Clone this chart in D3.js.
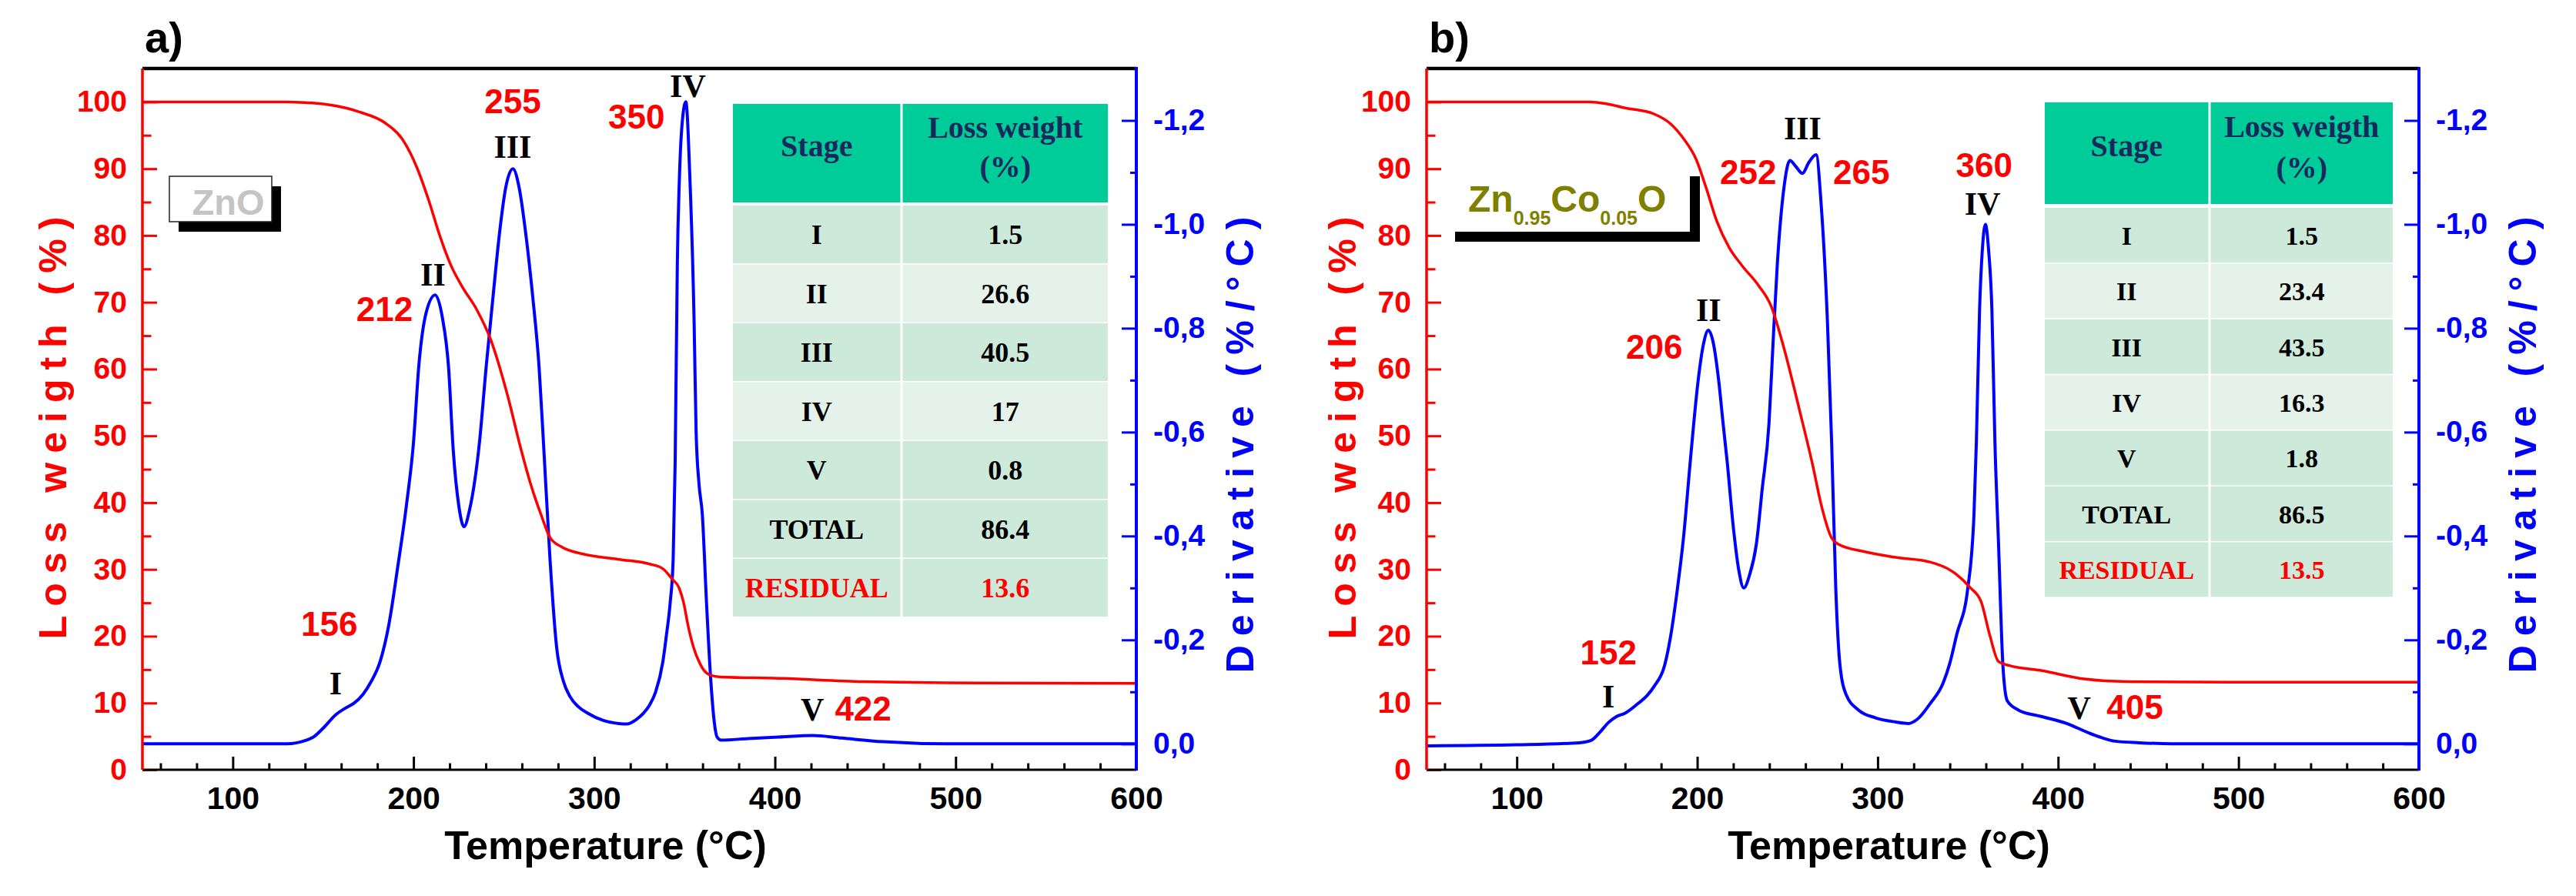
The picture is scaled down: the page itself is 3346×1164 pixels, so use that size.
<!DOCTYPE html>
<html>
<head>
<meta charset="utf-8">
<script src="https://cdn.jsdelivr.net/npm/d3@7"></script>
<style>
  body { margin: 0; background: #fff; }
  svg { display: block; }
</style>
</head>
<body>
<div id="chart"></div>
<script>
// TG curves: [temperature (°C), weight (%)]
const tgA = [
  [50, 100], [130, 100], [140, 99.9], [150, 99.7], [157, 99.4], [170, 98.5], [184, 96.9],
  [193.6, 94.5], [202, 90.1], [208.5, 85.2], [214.5, 80], [220.6, 75.6], [226.8, 72.4],
  [235, 68.9], [242.6, 64.5], [252.4, 55.7], [259, 48.5], [264.7, 42.9], [270.7, 38.1],
  [275.7, 34.7], [281.8, 33.4], [294, 32.3], [313.6, 31.5], [330.7, 30.8], [338, 30.1],
  [343, 28.6], [347, 27.2], [349.5, 25], [352, 21.5], [355, 18.3], [358, 16.2], [361, 14.8],
  [364, 14.2], [370, 13.9], [402, 13.7], [449, 13.2], [518, 13.0], [600, 12.95]
];
const tgB = [
  [50, 100], [141, 100], [150, 99.7], [160, 99.1], [176, 98.2], [185.3, 96.7], [192.4, 94.5],
  [199.4, 91.4], [205.1, 87], [210.9, 82.1], [217.7, 78.2], [224.8, 75.5], [234, 72.5],
  [241, 69.4], [248, 63.2], [257, 53.5], [264, 45.6], [268.7, 39.7], [274.5, 34.7],
  [278, 33.8], [291.9, 32.7], [310, 31.8], [329, 31.1], [341.4, 29.7], [351.2, 27.3],
  [357.3, 25.2], [362, 20.3], [367, 16.2], [373, 15.6], [390, 14.9], [414.5, 13.6],
  [438.8, 13.2], [500, 13.1], [600, 13.1]
];

// DTG curves: [temperature (°C), derivative (%/°C)]
const dtgA = [
  [50, 0], [130, 0], [140, -0.006], [145, -0.014], [150, -0.03], [157, -0.056], [162, -0.068],
  [167, -0.078], [172, -0.095], [176.6, -0.12], [181.5, -0.158], [186.4, -0.23], [191.3, -0.341],
  [196.2, -0.462], [200, -0.58], [203, -0.73], [207, -0.83], [212, -0.864], [216, -0.82],
  [219.4, -0.725], [222, -0.565], [225, -0.46], [228, -0.418], [231, -0.45], [236.5, -0.58],
  [240.2, -0.725], [244, -0.86], [247.5, -0.98], [251, -1.07], [255, -1.107], [258.5, -1.07],
  [262.2, -0.98], [266, -0.86], [269.5, -0.725], [272, -0.575], [275.6, -0.352], [279.2, -0.186],
  [283, -0.12], [286.6, -0.091], [291, -0.072], [296.4, -0.059], [305, -0.045], [313.6, -0.039],
  [318, -0.038], [323.4, -0.047], [327, -0.058], [330.7, -0.075], [334, -0.1], [338, -0.158],
  [340, -0.21], [342, -0.27], [343.7, -0.356], [344.8, -0.543], [346, -0.924], [347.2, -1.094],
  [348.8, -1.2], [350.7, -1.236], [352.9, -1.094], [355.3, -0.81], [356.4, -0.6], [358, -0.5],
  [359.8, -0.443], [362.2, -0.268], [364.5, -0.123], [366.5, -0.04], [368, -0.013],
  [370.3, -0.007], [385, -0.01], [402, -0.013], [421, -0.016], [437, -0.011], [460, -0.004],
  [495, 0], [600, 0]
];
const dtgB = [
  [50, 0.004], [100, 0.002], [134.5, -0.002], [141.4, -0.007], [146, -0.022], [150.8, -0.041],
  [155, -0.052], [160, -0.059], [167, -0.077], [172, -0.092], [176.2, -0.111], [182, -0.152],
  [185.4, -0.21], [189, -0.298], [192.4, -0.397], [195.8, -0.53], [198.1, -0.618], [200.4, -0.696],
  [203.5, -0.77], [206.2, -0.796], [209, -0.77], [212, -0.696], [214.3, -0.618], [216.6, -0.543],
  [220.1, -0.414], [223, -0.335], [225.8, -0.30], [229, -0.325], [232.8, -0.385], [236, -0.49],
  [239.8, -0.618], [242, -0.77], [244.4, -0.924], [247.9, -1.066], [251.4, -1.123], [254.5, -1.112],
  [258.3, -1.098], [262, -1.12], [265.9, -1.134], [268.7, -1.038], [272.2, -0.81], [274.5, -0.58],
  [276.8, -0.298], [279.1, -0.152], [282.6, -0.094], [289.4, -0.065], [298.8, -0.05], [310, -0.042],
  [317, -0.039], [321.9, -0.047], [329, -0.077], [336.3, -0.117], [340, -0.155], [343.8, -0.21],
  [349.9, -0.298], [353.4, -0.443], [354.7, -0.58], [356.5, -0.838], [358, -0.95], [359.7, -1.0],
  [361.5, -0.95], [363.3, -0.838], [365, -0.58], [367, -0.385], [369.4, -0.152], [371.8, -0.083],
  [378, -0.065], [390.2, -0.053], [404.8, -0.039], [411, -0.03], [417, -0.021], [424, -0.012],
  [431.6, -0.005], [445, -0.002], [463, 0], [600, 0]
];

// peak temperatures (red) and stage numerals (black), placed at [T, weight-axis value]
const peaksA = [
  { text: "156", t: 153.4, w: 20.1, anchor: "middle" },
  { text: "212", t: 184, w: 67.2, anchor: "middle" },
  { text: "255", t: 254.9, w: 98.3, anchor: "middle" },
  { text: "350", t: 323.4, w: 96.0, anchor: "middle" },
  { text: "422", t: 448.8, w: 7.4, anchor: "middle" }
];
const romansA = [
  { text: "I", t: 156.9, w: 11.3 },
  { text: "II", t: 210.8, w: 72.5 },
  { text: "III", t: 254.9, w: 91.6 },
  { text: "IV", t: 351.8, w: 100.7 },
  { text: "V", t: 420.7, w: 7.4 }
];
const peaksB = [
  { text: "152", t: 150.8, w: 15.8, anchor: "middle" },
  { text: "206", t: 176.2, w: 61.6, anchor: "middle" },
  { text: "252", t: 243.9, w: 87.7, anchor: "end" },
  { text: "265", t: 275.3, w: 87.7, anchor: "start" },
  { text: "360", t: 359, w: 88.8, anchor: "middle" },
  { text: "405", t: 426.9, w: 7.6, anchor: "start" }
];
const romansB = [
  { text: "I", t: 150.8, w: 9.3 },
  { text: "II", t: 206.3, w: 67.2 },
  { text: "III", t: 258.4, w: 94.4 },
  { text: "IV", t: 358.1, w: 83.1 },
  { text: "V", t: 411.7, w: 7.6 }
];

// inset tables
const stages = ["I", "II", "III", "IV", "V", "TOTAL", "RESIDUAL"];
const lossA = ["1.5", "26.6", "40.5", "17", "0.8", "86.4", "13.6"];
const lossB = ["1.5", "23.4", "43.5", "16.3", "1.8", "86.5", "13.5"];

// ticks
const tempTicks = [100, 200, 300, 400, 500, 600];
const weightTicks = [0, 10, 20, 30, 40, 50, 60, 70, 80, 90, 100];
const derivTicks = [0, -0.2, -0.4, -0.6, -0.8, -1.0, -1.2];

const sans = "'Liberation Sans', Arial, sans-serif";
const serif = "'Liberation Serif', 'Times New Roman', serif";
const RED = "#ff0000", BLUE = "#0000ff";
const width = 3346, height = 1164;
const plotTop = 89, plotBottom = 1000;

const svg = d3.select("#chart").append("svg")
    .attr("width", width)
    .attr("height", height);

svg.append("rect").attr("width", width).attr("height", height).attr("fill", "#fff");

const panels = [
  { tag: "a)", left: 185, right: 1476, tg: tgA, dtg: dtgA, peaks: peaksA, romans: romansA,
    loss: lossA, lossHeader: "Loss weight", leftTitleDx: -99, bodySize: 36,
    table: { x0: 767, xs: 986, x1: 1254, top: 135, headH: 128, rowTop: 267, rowH: 76.5 },
    sample: "a" },
  { tag: "b)", left: 1853, right: 3142, tg: tgB, dtg: dtgB, peaks: peaksB, romans: romansB,
    loss: lossB, lossHeader: "Loss weigth", leftTitleDx: -92, bodySize: 34,
    table: { x0: 803, xs: 1017, x1: 1255, top: 133, headH: 132, rowTop: 270, rowH: 72.4 },
    sample: "b" }
];

const rowFill = ["#cde9d9", "#e4f2ea", "#cde9d9", "#e4f2ea", "#cde9d9", "#cde9d9", "#cde9d9"];

function styleAxis(gg, color, size) {
  gg.select(".domain").remove();
  gg.selectAll("line").attr("stroke", color).attr("stroke-width", 3);
  gg.selectAll("text")
      .attr("fill", color)
      .style("font-family", sans)
      .style("font-size", size + "px")
      .style("font-weight", "bold");
}

function drawPanel(p) {
  const x = d3.scaleLinear().domain([50, 600]).range([p.left, p.right]);
  const yW = d3.scaleLinear().domain([0, 105]).range([plotBottom, plotTop]);
  const yD = d3.scaleLinear().domain([0.05, -1.3]).range([plotBottom, plotTop]);
  const g = svg.append("g");

  // panel tag
  g.append("text")
      .attr("x", p.left + 3)
      .attr("y", 68)
      .style("font-family", sans)
      .style("font-size", "56px")
      .style("font-weight", "bold")
      .text(p.tag);

  // sample label
  if (p.sample === "a") {
    const bx = p.left + 35, by = 229, bw = 133, bh = 59;
    g.append("rect").attr("x", bx + 12).attr("y", by + 13).attr("width", bw).attr("height", bh).attr("fill", "#000");
    g.append("rect").attr("x", bx).attr("y", by).attr("width", bw).attr("height", bh)
        .attr("fill", "#fff").attr("stroke", "#222").attr("stroke-width", 1.5);
    g.append("text")
        .attr("x", bx + bw / 2 + 10)
        .attr("y", by + 50)
        .attr("text-anchor", "middle")
        .attr("fill", "#c4c4c4")
        .style("font-family", sans)
        .style("font-size", "47px")
        .style("font-weight", "bold")
        .text("ZnO");
  } else {
    const bx = p.left + 24, by = 216, bw = 318, bh = 85;
    g.append("rect").attr("x", bx + 13).attr("y", by + 13).attr("width", bw).attr("height", bh).attr("fill", "#000");
    g.append("rect").attr("x", bx).attr("y", by).attr("width", bw).attr("height", bh).attr("fill", "#fff");
    const t = g.append("text")
        .attr("x", bx + 30)
        .attr("y", by + 59)
        .attr("fill", "#808000")
        .style("font-family", sans)
        .style("font-size", "48px")
        .style("font-weight", "bold");
    t.append("tspan").text("Zn");
    t.append("tspan").attr("dy", 17).style("font-size", "25px").text("0.95");
    t.append("tspan").attr("dy", -17).text("Co");
    t.append("tspan").attr("dy", 17).style("font-size", "25px").text("0.05");
    t.append("tspan").attr("dy", -17).text("O");
  }

  // inset table
  const tb = p.table;
  const tx0 = p.left + tb.x0, txs = p.left + tb.xs, tx1 = p.left + tb.x1;
  const cols = [[tx0, txs - 1.5], [txs + 1.5, tx1]];
  cols.forEach(([a, b]) => {
    g.append("rect").attr("x", a).attr("y", tb.top).attr("width", b - a).attr("height", tb.headH).attr("fill", "#00cc99");
  });
  const head = g.append("g")
      .attr("fill", "#16285c")
      .style("font-family", serif)
      .style("font-weight", "bold")
      .style("font-size", "40px")
      .attr("text-anchor", "middle");
  head.append("text").attr("x", (cols[0][0] + cols[0][1]) / 2).attr("y", tb.top + tb.headH * 0.53).text("Stage");
  head.append("text").attr("x", (cols[1][0] + cols[1][1]) / 2).attr("y", tb.top + tb.headH * 0.34).text(p.lossHeader);
  head.append("text").attr("x", (cols[1][0] + cols[1][1]) / 2).attr("y", tb.top + tb.headH * 0.74).text("(%)");

  stages.forEach((s, i) => {
    const ry = tb.rowTop + i * tb.rowH;
    cols.forEach(([a, b]) => {
      g.append("rect").attr("x", a).attr("y", ry).attr("width", b - a).attr("height", tb.rowH - 1.5).attr("fill", rowFill[i]);
    });
    const color = s === "RESIDUAL" ? RED : "#000";
    [s, p.loss[i]].forEach((txt, c) => {
      g.append("text")
          .attr("x", (cols[c][0] + cols[c][1]) / 2)
          .attr("y", ry + tb.rowH / 2 + p.bodySize * 0.34)
          .attr("text-anchor", "middle")
          .attr("fill", color)
          .style("font-family", serif)
          .style("font-weight", "bold")
          .style("font-size", p.bodySize + "px")
          .text(txt);
    });
  });

  // curves
  const lineTG = d3.line().x(d => x(d[0])).y(d => yW(d[1])).curve(d3.curveMonotoneX);
  const lineDTG = d3.line().x(d => x(d[0])).y(d => yD(d[1])).curve(d3.curveMonotoneX);
  g.append("path").datum(p.dtg).attr("d", lineDTG)
      .attr("fill", "none").attr("stroke", BLUE).attr("stroke-width", 4).attr("stroke-linejoin", "round");
  g.append("path").datum(p.tg).attr("d", lineTG)
      .attr("fill", "none").attr("stroke", RED).attr("stroke-width", 3.5).attr("stroke-linejoin", "round");

  // annotations
  p.peaks.forEach(d => {
    g.append("text")
        .attr("x", x(d.t)).attr("y", yW(d.w))
        .attr("text-anchor", d.anchor)
        .attr("fill", RED)
        .style("font-family", sans)
        .style("font-weight", "bold")
        .style("font-size", "44px")
        .text(d.text);
  });
  p.romans.forEach(d => {
    g.append("text")
        .attr("x", x(d.t)).attr("y", yW(d.w))
        .attr("text-anchor", "middle")
        .attr("fill", "#000")
        .style("font-family", serif)
        .style("font-weight", "bold")
        .style("font-size", "42px")
        .text(d.text);
  });

  // axes: minor ticks first, then major ticks with labels
  const xMinor = d3.axisBottom(x).tickValues(d3.range(60, 600, 20).filter(v => v % 100 !== 0))
      .tickSize(-8.5).tickFormat("");
  styleAxis(g.append("g").attr("transform", `translate(0,${plotBottom})`).call(xMinor), "#000", 41);
  const xMajor = d3.axisBottom(x).tickValues(tempTicks).tickSize(-17).tickSizeOuter(0).tickPadding(22);
  styleAxis(g.append("g").attr("transform", `translate(0,${plotBottom})`).call(xMajor), "#000", 41);

  const wMinor = d3.axisLeft(yW).tickValues(d3.range(5, 100, 10)).tickSize(-11.5).tickFormat("");
  styleAxis(g.append("g").attr("transform", `translate(${p.left},0)`).call(wMinor), RED, 39);
  const wMajor = d3.axisLeft(yW).tickValues(weightTicks).tickSize(-19).tickSizeOuter(0).tickPadding(20);
  styleAxis(g.append("g").attr("transform", `translate(${p.left},0)`).call(wMajor), RED, 39);

  const fmtD = v => v.toFixed(1).replace(".", ",");
  const dMinor = d3.axisRight(yD).tickValues([-0.1, -0.3, -0.5, -0.7, -0.9, -1.1]).tickSize(-8).tickFormat("");
  styleAxis(g.append("g").attr("transform", `translate(${p.right},0)`).call(dMinor), BLUE, 39);
  const dMajor = d3.axisRight(yD).tickValues(derivTicks).tickSize(-19).tickSizeOuter(0).tickPadding(22).tickFormat(fmtD);
  styleAxis(g.append("g").attr("transform", `translate(${p.right},0)`).call(dMajor), BLUE, 39);

  // frame lines
  g.append("line").attr("x1", p.left).attr("x2", p.right).attr("y1", plotTop).attr("y2", plotTop)
      .attr("stroke", "#000").attr("stroke-width", 4.5);
  g.append("line").attr("x1", p.left).attr("x2", p.right).attr("y1", plotBottom).attr("y2", plotBottom)
      .attr("stroke", "#000").attr("stroke-width", 3);
  g.append("line").attr("x1", p.left).attr("x2", p.left).attr("y1", plotTop).attr("y2", plotBottom)
      .attr("stroke", RED).attr("stroke-width", 3.5);
  g.append("line").attr("x1", p.right).attr("x2", p.right).attr("y1", plotTop - 2).attr("y2", plotBottom + 1)
      .attr("stroke", BLUE).attr("stroke-width", 4);

  // axis titles
  g.append("text")
      .attr("x", (p.left + p.right) / 2 - 44)
      .attr("y", 1116)
      .attr("text-anchor", "middle")
      .style("font-family", sans)
      .style("font-weight", "bold")
      .style("font-size", "52px")
      .text("Temperature (°C)");

  g.append("text")
      .attr("transform", `translate(${p.left + p.leftTitleDx},550) rotate(-90)`)
      .attr("text-anchor", "middle")
      .attr("fill", RED)
      .style("font-family", sans)
      .style("font-weight", "bold")
      .style("font-size", "50px")
      .style("letter-spacing", "12px")
      .text("Loss weigth (%)");

  g.append("text")
      .attr("transform", `translate(${p.right + 152},572) rotate(-90)`)
      .attr("text-anchor", "middle")
      .attr("fill", BLUE)
      .style("font-family", sans)
      .style("font-weight", "bold")
      .style("font-size", "50px")
      .style("letter-spacing", "12px")
      .text("Derivative (%/°C)");
}

panels.forEach(drawPanel);
</script>
</body>
</html>
